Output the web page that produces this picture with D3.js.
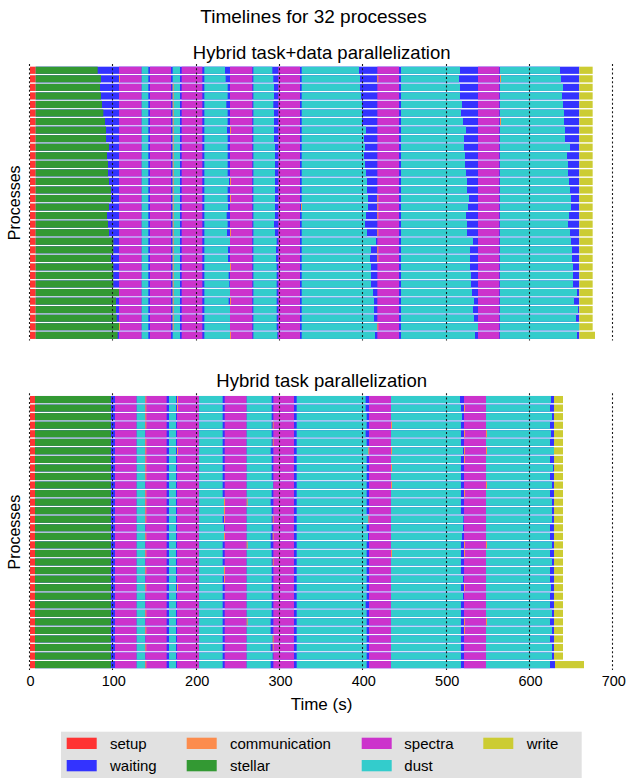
<!DOCTYPE html>
<html>
<head>
<meta charset="utf-8">
<script src="https://cdn.jsdelivr.net/npm/d3@7"></script>
<style>
  body { margin: 0; background: #fff; }
  svg { display: block; font-family: "Liberation Sans", Arial, Helvetica, sans-serif; }
</style>
</head>
<body>
<svg id="chart" width="627" height="778"></svg>
<script>
// ---------- shared categories ----------
const processIds = [1, 2, 3, 4, 5, 6, 7, 8, 9, 10, 11, 12, 13, 14, 15, 16,
                    17, 18, 19, 20, 21, 22, 23, 24, 25, 26, 27, 28, 29, 30, 31, 32];
const stateNames = ["setup", "waiting", "communication", "stellar", "spectra", "dust", "write"];
const timeTicks = [0, 100, 200, 300, 400, 500, 600, 700];

// ---------- Hybrid task+data parallelization (seconds) ----------
const tdSetupEnd = 6.8;
const tdStellarEnd = [81.2, 85.2, 84, 85.2, 86.4, 88, 90, 91.2, 91.2, 94.8, 92.4, 93.6, 93.6, 94.8, 97.2, 97.2,
                      94.8, 92.4, 93.6, 94.8, 100, 100, 97.2, 100, 100, 100, 106.8, 103.2, 103.2, 104, 106.8, 105.2];
const tdSpectraStart = [106.8, 144, 182, 240, 298, 416.8, 537.6];
const tdSpectraEnd   = [134, 169.2, 206.8, 266.8, 324, 442.8, 563.2];
const tdDustStart    = [134, 171.2, 209.2, 268, 326, 445.2, 564];
const tdDustEnd1 = 142;
const tdDustEnd2 = 180;
const tdDustEnd3 = [234, 234.8, 237.2, 237.2, 235.6, 237.2, 237.2, 236.4, 237.2, 237.2, 237.2, 237.2, 237.2, 238.8, 237.2, 237.2,
                    237.6, 236, 237.2, 236.4, 240, 237.6, 237.6, 240, 238.4, 239.2, 240, 238.4, 240, 240, 240, 240];
const tdDustEnd4 = [290.8, 292, 292.8, 292.8, 292, 292.8, 292.8, 292.8, 292.8, 294, 294, 294, 294, 294, 294, 294,
                    294, 294, 292.8, 294, 296, 295.2, 295.2, 296, 296, 296, 296, 296, 296, 296, 296, 296.8];
const tdDustEnd5 = [394.8, 396, 396, 397.2, 398.4, 398.4, 398.4, 403.2, 400.8, 402, 400.8, 402, 403.2, 404.4, 404.4, 405.6,
                    405.6, 403.2, 402, 404.4, 415.2, 409.2, 408, 409.2, 409.2, 409.2, 411.6, 412.8, 412.8, 412.8, 416.8, 414];
const tdDustEnd6 = [516, 514.8, 516, 516, 518.4, 517.2, 519.6, 523.2, 520.8, 520.8, 522, 522, 523.2, 524.4, 524.4, 526.8,
                    525.6, 523.2, 524.4, 524.4, 531.6, 528, 528, 528, 529.2, 529.2, 530.4, 532.8, 531.6, 532.8, 537.6, 534];
const tdDustEnd7 = [636, 637.2, 639.6, 638.4, 639.6, 640.8, 640.8, 642, 642, 648, 644.4, 645.6, 645.6, 646.8, 648, 649.2,
                    649.2, 646.8, 645.6, 648, 649.2, 650.4, 650.4, 651.6, 651.6, 651.6, 656.4, 652.8, 657.6, 655.2, 659.2, 656.4];
const tdWriteStart = [659.2, 659.2, 659.2, 659.2, 659.2, 659.2, 659.2, 659.2, 659.2, 659.2, 659.2, 659.2, 659.2, 659.2, 659.2, 659.2,
                      659.2, 659.2, 659.2, 659.2, 659.2, 659.2, 659.2, 659.2, 659.2, 659.2, 659.2, 659.2, 659.2, 659.2, 659.2, 659.2];
const tdWriteEnd = [675.2, 675.2, 675.2, 675.2, 675.2, 675.2, 675.2, 675.2, 675.2, 675.2, 675.2, 675.2, 675.2, 675.2, 675.2, 675.2,
                    675.2, 675.2, 675.2, 675.2, 675.2, 675.2, 675.2, 675.2, 675.2, 675.2, 675.2, 675.2, 675.2, 675.2, 675.2, 678];
// short communication bursts: [process index, start, end]
const tdComm = [
  [1, 106.8, 107.6], [30, 106.8, 107.6],
  [2, 171.2, 172], [3, 171.2, 172], [4, 171.2, 172], [5, 171.2, 172], [6, 171.2, 172], [7, 171.2, 172],
  [8, 171.2, 172], [9, 171.2, 172], [10, 171.2, 172], [11, 171.2, 172], [12, 171.2, 172], [13, 171.2, 172],
  [14, 171.2, 172], [15, 171.2, 172], [16, 171.2, 172], [17, 171.2, 172], [18, 171.2, 172], [19, 171.2, 172],
  [20, 171.2, 172], [21, 171.2, 172], [22, 171.2, 172], [23, 171.2, 172], [24, 171.2, 172], [25, 171.2, 172],
  [26, 171.2, 172], [27, 171.2, 172], [28, 171.2, 172], [29, 171.2, 172], [30, 171.2, 172],
  [7, 240, 240.8], [13, 240, 240.8], [15, 240, 240.8], [19, 240, 240.8], [23, 240, 240.8], [27, 240, 240.8], [31, 240, 240.8],
  [16, 325.2, 326],
  [1, 416.8, 417.6], [15, 416.8, 417.6], [16, 416.8, 417.6], [17, 416.8, 417.6], [19, 416.8, 417.6],
  [21, 416.8, 417.6], [22, 416.8, 417.6], [30, 416.8, 417.6],
  [1, 564, 564.8], [6, 564, 564.8]
];

// ---------- Hybrid task parallelization (seconds) ----------
const tpSetupEnd = 6;
const tpStellarEnd = [97.2, 97.2, 97.2, 97.2, 97.2, 97.2, 97.2, 97.2, 97.2, 97.2, 97.2, 97.2, 97.2, 97.2, 97.2, 97.2,
                      97.2, 97.2, 97.2, 97.2, 97.2, 97.2, 97.2, 97.2, 97.2, 97.2, 97.2, 97.2, 97.2, 97.2, 97.2, 97.2];
const tpSpectraStart = [102, 138.4, 176.4, 233.6, 292, 406.8, 520.8];
const tpSpectraEnd   = [128, 164, 202.8, 260, 316.8, 433.2, 547.2];
const tpDustStart    = [128, 166.8, 202.8, 260, 320, 433.2, 547.2];
const tpDustEnd1 = 138.4;
const tpDustEnd2 = 175.2;
const tpDustEnd3 = [231.2, 231.2, 231.2, 231.2, 231.2, 231.2, 231.2, 231.2, 231.2, 231.2, 231.2, 231.2, 232.8, 232.8, 231.2, 232.8,
                    232.8, 231.2, 231.2, 231.2, 232.8, 231.2, 231.2, 231.2, 231.2, 231.2, 231.2, 231.2, 231.2, 231.2, 231.2, 231.2];
const tpDustEnd4 = [290, 290, 290, 290, 290, 290, 288.8, 290, 290, 290, 292, 290, 288.8, 290, 290, 290,
                    288.8, 288.8, 290, 290, 290, 290, 290, 290, 290, 290, 288.8, 288.8, 291.2, 288.8, 291.2, 288.8];
const tpDustEnd5 = [402.8, 402.8, 404, 404, 402.8, 404, 406.8, 404, 404, 404, 404, 404, 404, 404, 406, 404,
                    405.6, 404, 404, 404, 404, 404, 404, 404, 402.8, 404, 404, 404, 404, 404, 404, 404];
const tpDustEnd6 = [516, 517.2, 518.4, 517.2, 517.2, 517.2, 519.6, 517.2, 517.2, 517.2, 517.2, 517.2, 517.2, 517.2, 520, 519.6,
                    518.4, 517.2, 517.2, 517.2, 517.2, 519.6, 517.2, 519.6, 517.2, 517.2, 517.2, 517.2, 517.2, 517.2, 517.2, 517.2];
const tpDustEnd7 = [625.2, 624, 626.4, 624, 625.2, 624, 628.8, 624, 627.6, 624, 626.4, 624, 626.4, 626.4, 626.4, 624,
                    624, 626.4, 624, 626.4, 624, 624, 625.2, 624, 624, 626.4, 624, 626.4, 624, 626.4, 626.4, 624];
const tpWriteStart = [628.8, 628.8, 628.8, 628.8, 628.8, 628.8, 628.8, 628.8, 628.8, 628.8, 628.8, 628.8, 628.8, 628.8, 628.8, 628.8,
                      628.8, 628.8, 628.8, 628.8, 628.8, 628.8, 628.8, 628.8, 628.8, 628.8, 628.8, 628.8, 628.8, 628.8, 628.8, 630];
const tpWriteEnd = [639.6, 639.6, 639.6, 639.6, 639.6, 639.6, 639.6, 639.6, 639.6, 639.6, 639.6, 639.6, 639.6, 639.6, 639.6, 639.6,
                    639.6, 639.6, 639.6, 639.6, 639.6, 639.6, 639.6, 639.6, 639.6, 639.6, 639.6, 639.6, 639.6, 639.6, 639.6, 664.8];
const tpComm = [
  [0, 138.4, 139.2], [1, 138.4, 139.2], [2, 138.4, 139.2], [3, 138.4, 139.2], [5, 138.4, 139.2], [6, 138.4, 139.2],
  [7, 138.4, 139.2], [8, 138.4, 139.2], [9, 138.4, 139.2], [11, 138.4, 139.2], [12, 138.4, 139.2], [13, 138.4, 139.2],
  [14, 138.4, 139.2], [16, 138.4, 139.2], [18, 138.4, 139.2], [20, 138.4, 139.2], [22, 138.4, 139.2], [25, 138.4, 139.2],
  [27, 138.4, 139.2], [29, 138.4, 139.2], [31, 138.4, 139.2],
  [0, 176.4, 177.2], [1, 176.4, 177.2], [6, 176.4, 177.2], [22, 176.4, 177.2],
  [12, 232.8, 233.6], [13, 232.8, 233.6], [14, 232.8, 233.6], [16, 232.8, 233.6], [20, 232.8, 233.6], [21, 232.8, 233.6],
  [12, 260, 260.8], [17, 260, 260.8], [26, 260, 260.8],
  [3, 291.2, 292], [5, 291.2, 292], [14, 291.2, 292], [16, 291.2, 292], [19, 291.2, 292], [28, 291.2, 292], [29, 291.2, 292],
  [6, 406, 406.8], [14, 406, 406.8],
  [3, 433.2, 434], [6, 433.2, 434], [8, 433.2, 434], [10, 433.2, 434], [18, 433.2, 434],
  [1, 520.8, 521.6], [4, 520.8, 521.6], [6, 520.8, 521.6], [7, 520.8, 521.6], [11, 520.8, 521.6], [17, 520.8, 521.6],
  [18, 520.8, 521.6], [22, 520.8, 521.6], [26, 520.8, 521.6], [27, 520.8, 521.6],
  [4, 547.2, 548], [6, 547.2, 548], [10, 547.2, 548], [17, 547.2, 548], [26, 547.2, 548]
];

// ---------- legend layout (column-major order) ----------
const legendColumns = [["setup", "waiting"], ["communication", "stellar"], ["spectra", "dust"], ["write"]];

// ---------- drawing ----------
const stateColor = d3.scaleOrdinal()
  .domain(stateNames)
  .range(["#ff3333", "#3333ff", "#fc8c4d", "#339933", "#cc33cc", "#33cccc", "#cccc33"]);

const svg = d3.select("#chart");
const x = d3.scaleLinear().domain([0, 700]).range([30, 613.33]);

function buildSegments(p) {
  const segs = [];
  processIds.forEach((pid, r) => {
    // waiting fills the whole span between setup and write; work segments are laid on top
    segs.push({ pid, state: "waiting", t0: p.setupEnd, t1: p.writeStart[r] });
    segs.push({ pid, state: "setup", t0: 0, t1: p.setupEnd });
    segs.push({ pid, state: "stellar", t0: p.setupEnd, t1: p.stellarEnd[r] });
    p.spectraStart.forEach((s, k) => {
      segs.push({ pid, state: "spectra", t0: s, t1: p.spectraEnd[k] });
      const dEnd = p.dustEnd[k];
      segs.push({ pid, state: "dust", t0: p.dustStart[k], t1: Array.isArray(dEnd) ? dEnd[r] : dEnd });
    });
    segs.push({ pid, state: "write", t0: p.writeStart[r], t1: p.writeEnd[r] });
  });
  p.comm.forEach(([r, t0, t1]) => segs.push({ pid: processIds[r], state: "communication", t0, t1 }));
  return segs;
}

const panels = [
  {
    title: "Hybrid task+data parallelization", titleY: 58.5, range: [66, 339.6],
    setupEnd: tdSetupEnd, stellarEnd: tdStellarEnd,
    spectraStart: tdSpectraStart, spectraEnd: tdSpectraEnd, dustStart: tdDustStart,
    dustEnd: [tdDustEnd1, tdDustEnd2, tdDustEnd3, tdDustEnd4, tdDustEnd5, tdDustEnd6, tdDustEnd7],
    writeStart: tdWriteStart, writeEnd: tdWriteEnd, comm: tdComm
  },
  {
    title: "Hybrid task parallelization", titleY: 387, range: [395.3, 668.9],
    setupEnd: tpSetupEnd, stellarEnd: tpStellarEnd,
    spectraStart: tpSpectraStart, spectraEnd: tpSpectraEnd, dustStart: tpDustStart,
    dustEnd: [tpDustEnd1, tpDustEnd2, tpDustEnd3, tpDustEnd4, tpDustEnd5, tpDustEnd6, tpDustEnd7],
    writeStart: tpWriteStart, writeEnd: tpWriteEnd, comm: tpComm
  }
];

// main title
svg.append("text")
  .attr("x", 313.5).attr("y", 22.7)
  .attr("text-anchor", "middle")
  .style("font-size", "19px")
  .text("Timelines for 32 processes");

panels.forEach(p => {
  const y = d3.scaleBand().domain(processIds).range(p.range).paddingInner(0.16).paddingOuter(0.08);
  const g = svg.append("g");

  g.append("text")
    .attr("x", (x.range()[0] + x.range()[1]) / 2).attr("y", p.titleY)
    .attr("text-anchor", "middle")
    .style("font-size", "18.5px")
    .text(p.title);

  const cy = (p.range[0] + p.range[1]) / 2;
  g.append("text")
    .attr("transform", `translate(20,${cy}) rotate(-90)`)
    .attr("text-anchor", "middle")
    .style("font-size", "16px")
    .text("Processes");

  g.append("g").selectAll("rect")
    .data(buildSegments(p))
    .join("rect")
    .attr("x", d => x(d.t0))
    .attr("y", d => y(d.pid))
    .attr("width", d => Math.max(d.state === "communication" ? 1 : 0, x(d.t1) - x(d.t0)))
    .attr("height", y.bandwidth())
    .attr("fill", d => stateColor(d.state));

  // dotted time guides, snapped to the pixel grid so the dots stay dark
  g.append("g").selectAll("line")
    .data(timeTicks)
    .join("line")
    .attr("x1", d => Math.round(x(d)) - 0.5).attr("x2", d => Math.round(x(d)) - 0.5)
    .attr("y1", p.range[0] - 2).attr("y2", p.range[1] + 1)
    .attr("stroke", "#1a1a1a")
    .attr("stroke-width", 1.1)
    .attr("stroke-dasharray", "2,2.3");
});

// time axis (labels only)
const axis = svg.append("g")
  .attr("transform", "translate(0,672.4)")
  .call(d3.axisBottom(x).tickValues(timeTicks).tickSize(0).tickFormat(d3.format("d")));
axis.select(".domain").remove();
axis.selectAll("text")
  .style("font-size", "14.5px")
  .style("font-family", "'Liberation Sans', Arial, sans-serif")
  .attr("fill", "#000");

svg.append("text")
  .attr("x", 321.5).attr("y", 710)
  .attr("text-anchor", "middle")
  .style("font-size", "17px")
  .text("Time (s)");

// legend
const legend = svg.append("g");
legend.append("rect")
  .attr("x", 61).attr("y", 731.7)
  .attr("width", 520.7).attr("height", 60)
  .attr("fill", "#e1e1e1");

const colSwatchX = [66.7, 186.7, 361.7, 483.3];
const colTextX = [110, 230, 404.3, 526.7];
const rowSwatchY = [737.7, 760];
const rowTextY = [749, 771];

legendColumns.forEach((col, ci) => {
  col.forEach((name, ri) => {
    legend.append("rect")
      .attr("x", colSwatchX[ci]).attr("y", rowSwatchY[ri])
      .attr("width", 30).attr("height", 11.3)
      .attr("fill", stateColor(name));
    legend.append("text")
      .attr("x", colTextX[ci]).attr("y", rowTextY[ri])
      .style("font-size", "15px")
      .text(name);
  });
});
</script>
</body>
</html>
